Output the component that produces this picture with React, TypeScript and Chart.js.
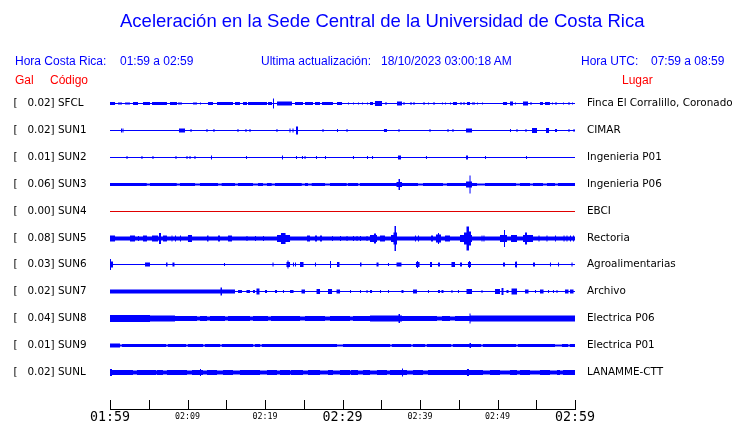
import React, { useEffect, useRef } from 'react';
import { Chart, registerables } from 'chart.js';

Chart.register(...registerables);

// ---------- data ----------
const stationCodes = ['SFCL', 'SUN1', 'SUN2', 'SUN3', 'SUN4', 'SUN5', 'SUN6', 'SUN7', 'SUN8', 'SUN9', 'SUNL'];
const peakGal = ['0.02', '0.02', '0.01', '0.06', '0.00', '0.08', '0.03', '0.02', '0.04', '0.01', '0.02'];
const places = [
  'Finca El Corralillo, Coronado', 'CIMAR', 'Ingenieria P01', 'Ingenieria P06', 'EBCI', 'Rectoria',
  'Agroalimentarias', 'Archivo', 'Electrica P06', 'Electrica P01', 'LANAMME-CTT',
];
// background noise half-amplitude of each trace (display units)
const baseAmp = [0.5, 0.5, 0.5, 1.5, 0.5, 2, 0.5, 0.5, 2.5, 1.5, 2.5];
const traceIsDead = [false, false, false, false, true, false, false, false, false, false, false];

// envelope episodes: [start minute, end minute, half-amplitude]
type Ev = [number, number, number];
const evSFCL: Ev[] = [
  [0, 0.65, 1.5], [1.03, 1.55, 1], [1.94, 2.58, 1], [2.97, 3.61, 1.5], [4.26, 5.16, 1.5], [5.42, 7.35, 1.5],
  [7.74, 8.65, 1.5], [8.77, 9.29, 1], [10.71, 11.23, 1], [11.61, 11.74, 1], [12.65, 13.29, 1.5], [13.81, 15.87, 1.5],
  [16.13, 16.77, 1.5], [17.16, 17.68, 1.5], [17.81, 20.26, 1.5], [20.39, 20.9, 1.5], [21.03, 21.16, 5], [21.55, 23.48, 2],
  [23.87, 24.9, 1.5], [25.16, 26.19, 1.5], [26.45, 27.1, 1.5], [27.35, 28.77, 1.5], [29.29, 29.94, 1.5], [30.71, 30.84, 1],
  [31.35, 31.48, 1], [32.0, 32.13, 1], [32.52, 32.65, 1], [33.16, 33.29, 1], [33.55, 33.94, 1.5], [34.19, 35.1, 2.5],
  [35.48, 35.74, 1], [37.03, 37.68, 2], [37.81, 38.06, 1], [38.71, 38.97, 1], [39.1, 39.35, 1], [40.39, 40.65, 1],
  [41.03, 41.16, 1], [41.68, 41.94, 1], [42.84, 42.97, 1], [43.23, 43.35, 1], [43.87, 44.0, 1], [44.26, 44.77, 1.5],
  [45.16, 45.42, 1], [45.55, 45.81, 1], [46.06, 46.45, 1.5], [46.71, 47.1, 1], [47.35, 47.48, 1], [48.0, 48.13, 1],
  [50.71, 51.23, 1.5], [51.61, 52.0, 2], [52.26, 52.39, 1], [53.29, 53.94, 2], [54.19, 54.45, 1], [55.48, 55.87, 1.5],
  [56.13, 56.77, 1.5], [57.03, 57.16, 1], [57.42, 57.68, 1], [58.45, 58.58, 1], [59.1, 59.35, 1], [59.61, 59.74, 1],
];
const evSUN1: Ev[] = [
  [1.42, 1.55, 2], [1.61, 1.74, 2], [8.9, 9.68, 2], [10.39, 10.52, 1.5], [12.45, 12.58, 1.5], [13.35, 13.48, 1.5],
  [16.45, 16.58, 1.5], [17.48, 17.61, 1.5], [18.0, 18.13, 1.5], [21.48, 21.61, 1.5], [23.16, 23.29, 2], [23.55, 23.68, 2],
  [24.0, 24.26, 4], [27.42, 27.55, 1.5], [29.29, 29.42, 1.5], [30.52, 30.65, 1.5], [35.35, 35.74, 1.5], [37.23, 37.35, 1.5],
  [41.23, 41.35, 1.5], [43.55, 43.68, 1.5], [44.19, 44.32, 1.5], [45.94, 46.71, 2], [51.61, 51.74, 1.5], [52.45, 52.58, 1.5],
  [53.61, 53.74, 1.5], [54.45, 55.1, 2.5], [56.26, 56.65, 2.5], [57.42, 57.68, 1.5], [59.16, 59.29, 1.5], [59.81, 59.94, 1.5],
];
const evSUN2: Ev[] = [
  [2.13, 2.26, 1.5], [4.06, 4.19, 1.5], [5.48, 5.61, 1.5], [8.45, 8.58, 1.5], [9.87, 10.0, 1.5], [10.26, 10.39, 1.5],
  [10.9, 11.03, 1.5], [13.03, 13.16, 2], [17.55, 17.68, 1.5], [22.19, 22.32, 2], [24.0, 24.13, 1.5], [24.77, 24.9, 1.5],
  [25.1, 25.23, 1.5], [26.58, 26.71, 1.5], [27.74, 27.87, 1.5], [31.35, 31.48, 1.5], [33.16, 33.29, 1.5], [33.81, 33.94, 1.5],
  [37.16, 37.55, 2], [40.77, 40.9, 1.5], [45.94, 46.19, 2], [48.39, 48.52, 1.5], [53.68, 53.81, 1.5],
];
const evSUN3: Ev[] = [
  [4.74, 5.16, 1], [8.61, 9.03, 1], [10.97, 11.61, 1], [13.94, 14.41, 1], [16.13, 16.52, 1], [18.45, 19.1, 1],
  [19.74, 20.26, 1], [20.86, 21.29, 1], [24.74, 25.16, 1], [25.55, 26.03, 1], [27.74, 28.39, 1], [30.54, 30.71, 1],
  [32.0, 32.26, 1], [39.74, 40.39, 1], [42.97, 43.48, 1], [47.35, 48.39, 1], [52.39, 52.9, 1], [54.19, 54.58, 1],
  [55.87, 56.39, 1], [57.42, 57.81, 1],
  [36.97, 37.68, 2.5], [37.23, 37.42, 5.5], [45.94, 46.71, 3], [46.39, 46.52, 9],
];
const evSUN4: Ev[] = [];
const evSUN5: Ev[] = [
  [0, 0.65, 3], [2.58, 3.23, 3], [3.61, 3.74, 2.5], [4.26, 4.77, 3], [5.42, 6.19, 3], [6.32, 6.58, 5.5], [6.84, 7.35, 3],
  [7.94, 8.06, 3], [8.39, 8.52, 3], [9.03, 9.16, 3], [10.06, 10.58, 3.5], [12.52, 12.71, 3], [13.94, 14.19, 3],
  [15.23, 15.74, 3], [17.61, 17.74, 2.5], [18.71, 18.84, 2.5], [19.74, 19.87, 2.5], [21.55, 23.23, 3.5], [22.06, 22.65, 5.5],
  [25.42, 25.81, 3], [26.45, 26.71, 3], [27.1, 27.35, 3], [28.65, 28.77, 2.5], [29.68, 29.81, 2.5], [30.52, 30.65, 2.5],
  [31.35, 31.48, 2.5], [31.81, 31.94, 2.5], [32.26, 32.39, 2.5], [33.1, 33.23, 2.5], [33.55, 34.45, 3.5], [34.06, 34.32, 5],
  [34.84, 35.48, 3], [36.26, 37.03, 3.5], [36.58, 36.71, 6], [36.71, 36.9, 12.5], [36.9, 37.03, 6], [39.35, 39.48, 3],
  [39.74, 39.87, 3], [41.42, 41.68, 3], [42.06, 42.71, 4], [42.32, 42.45, 5.5], [43.23, 43.87, 3], [45.16, 46.71, 3.5],
  [45.68, 46.0, 6], [46.0, 46.32, 12], [46.32, 46.58, 7], [47.94, 48.06, 3], [48.19, 48.32, 3], [50.32, 51.23, 3.5],
  [50.84, 50.97, 8.5], [51.74, 52.52, 3.5], [53.29, 54.58, 3.5], [53.55, 53.81, 6], [55.29, 55.42, 3], [56.32, 56.45, 3],
  [57.42, 57.55, 3], [58.52, 58.65, 3], [58.9, 59.03, 3], [59.35, 59.48, 3], [59.74, 59.87, 3],
];
const evSUN6: Ev[] = [
  [0, 0.13, 5.5], [0.13, 0.39, 3], [4.52, 5.16, 2], [7.23, 7.42, 2], [8.06, 8.32, 2], [14.71, 14.84, 1.5], [20.97, 21.1, 2],
  [22.77, 23.23, 2.5], [22.9, 23.03, 4], [23.61, 23.74, 2], [23.87, 24.0, 2], [24.52, 24.97, 2.5], [26.45, 26.58, 2],
  [28.39, 28.52, 3.5], [29.29, 29.61, 2.5], [32.26, 32.45, 2], [34.39, 34.65, 2], [35.87, 36.0, 1.5], [36.97, 37.61, 2],
  [39.48, 39.94, 2.5], [39.61, 39.74, 3.5], [41.29, 41.55, 2.5], [42.32, 42.58, 2], [44.06, 44.52, 2.5], [45.16, 45.42, 2],
  [46.19, 46.58, 2.5], [46.32, 46.45, 3.5], [50.71, 50.97, 2], [52.26, 52.52, 2.5], [52.35, 52.45, 3.5], [54.58, 54.84, 2],
  [56.77, 56.9, 2], [57.81, 57.94, 2], [59.55, 59.68, 2],
];
const evSUN7: Ev[] = [
  [0, 16.13, 2], [14.26, 14.45, 4], [16.52, 17.03, 1.5], [17.61, 18.06, 1.5], [18.45, 18.71, 1.5], [18.9, 19.29, 3],
  [20.0, 20.26, 1.5], [21.29, 21.55, 1.5], [22.32, 22.45, 1.5], [23.23, 23.68, 1.5], [24.71, 25.16, 2], [26.65, 27.1, 2.5],
  [28.13, 28.65, 2.5], [29.23, 29.68, 2], [30.97, 31.1, 1.5], [32.26, 32.39, 1.5], [33.1, 33.23, 1.5], [33.55, 33.81, 1.5],
  [34.84, 34.97, 1.5], [35.87, 36.0, 1.5], [37.61, 37.87, 1.5], [39.1, 39.61, 2], [41.03, 41.16, 1.5], [42.32, 42.58, 1.5],
  [42.77, 43.03, 1.5], [44.06, 44.19, 1.5], [44.9, 45.03, 1.5], [46.0, 46.71, 2.5], [47.94, 48.06, 1.5], [49.68, 50.32, 2.5],
  [50.52, 50.77, 3.5], [51.16, 51.42, 1.5], [51.81, 52.52, 3], [53.55, 54.0, 2], [54.84, 54.97, 1.5], [55.48, 55.94, 2],
  [56.52, 56.65, 1.5], [57.16, 57.29, 1.5], [57.61, 57.74, 1.5], [58.71, 59.16, 2], [59.35, 59.81, 2],
];
const evSUN8: Ev[] = [
  [0, 5.16, 3.5], [5.16, 8.39, 3], [11.23, 11.61, 2], [12.52, 12.9, 2], [14.84, 15.23, 2],
  [18.06, 18.45, 2], [20.39, 20.77, 2], [24.52, 25.16, 2], [27.74, 28.39, 2], [30.97, 31.35, 2],
  [33.55, 37.68, 3], [37.23, 37.42, 4.5], [42.19, 42.84, 2], [43.87, 44.52, 2], [46.39, 60, 3], [46.39, 46.52, 5],
];
const evSUN9: Ev[] = [
  [0, 1.29, 2], [1.29, 1.55, 1], [7.23, 7.48, 1], [9.81, 10.06, 1], [12.0, 12.26, 1], [14.19, 14.45, 1],
  [18.45, 18.71, 1], [19.35, 19.61, 1], [29.29, 30.06, 1], [36.13, 36.39, 1], [38.84, 39.1, 1], [40.65, 40.9, 1],
  [44.0, 44.26, 1], [46.39, 46.58, 2.5], [47.87, 48.13, 1], [52.39, 52.65, 1], [57.42, 58.32, 1], [59.1, 59.35, 1],
];
const evSUNL: Ev[] = [
  [2.97, 3.48, 2], [5.94, 6.06, 2], [6.84, 7.35, 2], [9.94, 10.58, 2], [12.0, 12.52, 2], [13.81, 14.58, 2],
  [15.87, 16.77, 2], [19.35, 20.26, 2], [21.55, 21.94, 2], [23.23, 23.35, 2], [24.9, 25.55, 2], [27.1, 28.13, 2],
  [28.77, 29.68, 2], [30.97, 31.1, 2], [32.0, 32.65, 2], [33.55, 34.45, 2], [35.74, 36.13, 2], [38.32, 39.1, 2],
  [40.39, 41.03, 2], [48.13, 49.03, 2], [50.32, 51.61, 2], [52.52, 52.9, 2], [54.19, 55.48, 2], [56.77, 57.68, 2],
  [58.06, 58.45, 2],
  [0, 0.26, 3.5], [11.61, 11.74, 3.5], [37.68, 37.81, 4], [46.06, 46.32, 3.5],
];
const traceEvents = [evSFCL, evSUN1, evSUN2, evSUN3, evSUN4, evSUN5, evSUN6, evSUN7, evSUN8, evSUN9, evSUNL];

// time axis (minutes after 01:59)
const tickMinutes = [0, 5, 10, 15, 20, 25, 30, 35, 40, 45, 50, 55, 60];
const labelMinutes = [0, 10, 20, 30, 40, 50, 60];
const labelTexts = ['01:59', '02:09', '02:19', '02:29', '02:39', '02:49', '02:59'];
const majorLabelMinutes = [0, 30, 60];

// header text
const titleText = 'Aceleración en la Sede Central de la Universidad de Costa Rica';
const headerLeft = ['Hora Costa Rica:', '01:59 a 02:59'];
const headerMid = ['Ultima actualización:', '18/10/2023 03:00:18 AM'];
const headerRight = ['Hora UTC:', '07:59 a 08:59'];

// ---------- styling / layout ----------
const BLUE = '#0000ff';
const RED = '#ff0000';
const TRACE_RED = '#e00000';
const Y_MAX = 333;
const centerOf = (i: number) => Math.round(27 + 26.9 * i) + 0.5;

function envelope(base: number, events: Ev[]): [number, number][] {
  const set = new Set<number>([0, 60]);
  events.forEach(([s, e]) => { set.add(s); set.add(e); });
  const bps = Array.from(set).filter((v) => v >= 0 && v <= 60).sort((a, b) => a - b);
  const out: [number, number][] = [];
  let prev = base;
  for (let k = 0; k < bps.length; k++) {
    const t0 = bps[k];
    if (k === bps.length - 1) { out.push([t0, prev]); break; }
    const mid = (t0 + bps[k + 1]) / 2;
    let a = base;
    for (const [s, e, amp] of events) if (mid >= s && mid < e) a = amp;
    out.push([t0, a]);
    prev = a;
  }
  return out;
}

const tickMarks = {
  id: 'tickMarks',
  afterDraw(chart: any) {
    const s = chart.scales.x;
    const ctx = chart.ctx;
    ctx.save();
    ctx.strokeStyle = '#000';
    ctx.lineWidth = 1;
    ctx.beginPath();
    s.ticks.forEach((t: any) => {
      const px = Math.round(s.getPixelForValue(t.value)) + 0.5;
      ctx.moveTo(px, s.top - 9);
      ctx.lineTo(px, s.top + 0.5);
    });
    ctx.stroke();
    ctx.restore();
  },
};

export default function App() {
  const ref = useRef<HTMLCanvasElement>(null);

  useEffect(() => {
    const datasets: any[] = [];
    stationCodes.forEach((_, i) => {
      const c = centerOf(i);
      const env = envelope(baseAmp[i], traceEvents[i]);
      const color = traceIsDead[i] ? TRACE_RED : BLUE;
      const common = {
        type: 'line',
        stepped: true,
        pointRadius: 0,
        borderWidth: 0,
        borderColor: 'rgba(0,0,0,0)',
        backgroundColor: color,
        tension: 0,
      };
      datasets.push({ ...common, data: env.map(([t, a]) => ({ x: t, y: c - a })), fill: false });
      datasets.push({ ...common, data: env.map(([t, a]) => ({ x: t, y: c + a })), fill: '-1' });
    });

    const yCommon = {
      type: 'linear',
      reverse: true,
      min: 0,
      max: Y_MAX,
      border: { display: false },
      afterBuildTicks: (s: any) => { s.ticks = stationCodes.map((_, i) => ({ value: centerOf(i) })); },
    };

    const chart = new Chart(ref.current as HTMLCanvasElement, {
      type: 'line',
      data: { datasets },
      plugins: [tickMarks],
      options: {
        animation: false,
        responsive: false,
        events: [],
        layout: { padding: { left: 13.5, top: 76, right: 0, bottom: 0 } },
        plugins: { legend: { display: false }, tooltip: { enabled: false } },
        scales: {
          x: {
            type: 'linear',
            position: 'bottom',
            min: 0,
            max: 60,
            afterBuildTicks: (s: any) => { s.ticks = tickMinutes.map((v) => ({ value: v })); },
            afterFit: (s: any) => { s.height = 14; },
            grid: { display: false, drawTicks: false },
            border: { display: true, color: '#000', width: 1 },
            ticks: {
              autoSkip: false,
              maxRotation: 0,
              minRotation: 0,
              padding: 0.5,
              color: '#000',
              callback: (v: any) => {
                const k = labelMinutes.indexOf(Number(v));
                return k >= 0 ? labelTexts[k] : '';
              },
              font: (ctx: any) => {
                const v = ctx.tick ? ctx.tick.value : 0;
                return majorLabelMinutes.includes(v)
                  ? { family: '"DejaVu Sans Mono", monospace', size: 13.3, lineHeight: '16px' }
                  : { family: '"DejaVu Sans Mono", monospace', size: 8.3, lineHeight: '14px' };
              },
            },
          },
          y: {
            ...yCommon,
            position: 'left',
            grid: { display: false, drawTicks: false },
            afterFit: (s: any) => { s.width = 96.5; },
            ticks: {
              crossAlign: 'far',
              padding: 0,
              color: '#000',
              font: { family: '"DejaVu Sans", sans-serif', size: 10.4 },
              callback: (_v: any, idx: number) => `[   ${peakGal[idx]}] ${stationCodes[idx]}`,
            },
          },
          y2: {
            ...yCommon,
            position: 'right',
            grid: { display: false, drawTicks: true, tickLength: 12 },
            afterFit: (s: any) => { s.width = 165; },
            ticks: {
              crossAlign: 'near',
              padding: 0,
              color: '#000',
              font: { family: '"DejaVu Sans", sans-serif', size: 10.4 },
              callback: (_v: any, idx: number) => places[idx],
            },
          },
        },
      } as any,
    } as any);
    return () => chart.destroy();
  }, []);

  const txt: React.CSSProperties = {
    position: 'absolute',
    whiteSpace: 'pre',
    fontFamily: '"Liberation Sans", Arial, sans-serif',
    lineHeight: 1,
    margin: 0,
  };

  return (
    <div style={{ position: 'fixed', left: 0, top: 0, width: 740, height: 423, background: '#fff', overflow: 'hidden' }}>
      <canvas ref={ref} width={740} height={423} style={{ position: 'absolute', left: 0, top: 0, width: 740, height: 423 }} />
      <div style={{ ...txt, left: 120, top: 12, fontSize: 18.5, color: BLUE }}>{titleText}</div>
      <div style={{ ...txt, left: 15, top: 54.5, fontSize: 12, color: BLUE }}>{headerLeft[0]}</div>
      <div style={{ ...txt, left: 120, top: 54.5, fontSize: 12, color: BLUE }}>{headerLeft[1]}</div>
      <div style={{ ...txt, left: 261, top: 54.5, fontSize: 12, color: BLUE }}>{headerMid[0]}</div>
      <div style={{ ...txt, left: 381, top: 54.5, fontSize: 12, color: BLUE }}>{headerMid[1]}</div>
      <div style={{ ...txt, left: 581, top: 54.5, fontSize: 12, color: BLUE }}>{headerRight[0]}</div>
      <div style={{ ...txt, left: 651, top: 54.5, fontSize: 12, color: BLUE }}>{headerRight[1]}</div>
      <div style={{ ...txt, left: 15, top: 73.5, fontSize: 12, color: RED }}>Gal</div>
      <div style={{ ...txt, left: 50, top: 73.5, fontSize: 12, color: RED }}>Código</div>
      <div style={{ ...txt, left: 622, top: 73.5, fontSize: 12, color: RED }}>Lugar</div>
    </div>
  );
}
